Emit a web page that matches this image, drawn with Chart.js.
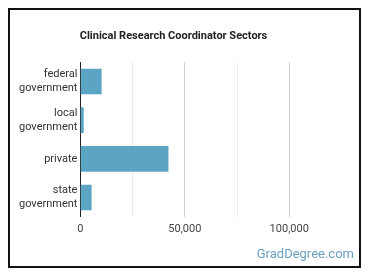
<!DOCTYPE html>
<html>
<head>
<meta charset="utf-8">
<script src="https://cdn.jsdelivr.net/npm/chart.js@4"></script>
<style>
  html, body { margin: 0; padding: 0; background: #fff; }
  #wrap { position: relative; width: 370px; height: 278px; }
  #frame {
    position: absolute; left: 8px; top: 8px; width: 353px; height: 260px;
    box-sizing: border-box; border: 2px solid #111; pointer-events: none;
  }
  #brand {
    position: absolute; right: 16px; top: 246px;
    font: 13px Roboto, sans-serif; color: #6b9fc0;
  }
</style>
</head>
<body>
<div id="wrap">
  <canvas id="chart" width="370" height="278"></canvas>
  <div id="frame"></div>
  <div id="brand">GradDegree.com</div>
</div>
<script>
// sectors and number of workers
const sectors = [['federal', 'government'], ['local', 'government'], 'private', ['state', 'government']];
const workers = [10000, 1400, 42000, 5200];
const tickValues = [0, 25000, 50000, 75000, 100000];
const labeledTicks = [0, 50000, 100000];

const ctx = document.getElementById('chart').getContext('2d');

new Chart(ctx, {
    type: 'bar',
    data: {
        labels: sectors,
        datasets: [{
            data: workers,
            backgroundColor: '#5ca4c4',
            borderWidth: 0,
            barThickness: 25
        }]
    },
    options: {
        indexAxis: 'y',
        responsive: false,
        animation: false,
        layout: {
            padding: { left: 16, right: 39, top: 20, bottom: 36 }
        },
        scales: {
            x: {
                min: 0,
                max: 120000,
                afterBuildTicks: (scale) => {
                    scale.ticks = tickValues.map(v => ({ value: v }));
                },
                ticks: {
                    padding: 6,
                    color: '#444',
                    font: { family: 'Roboto', size: 11 },
                    maxRotation: 0,
                    autoSkip: false,
                    callback: (value) => labeledTicks.includes(value) ? value.toLocaleString('en-US') : ''
                },
                grid: {
                    drawTicks: false,
                    color: (c) => {
                        const v = c.tick ? c.tick.value : 0;
                        if (v === 0) return 'rgba(0,0,0,0)';
                        return v % 50000 === 0 ? '#cfcfcf' : '#ececec';
                    }
                },
                border: { display: false }
            },
            y: {
                ticks: {
                    padding: 3,
                    color: '#333',
                    font: { family: 'Roboto', size: 11, lineHeight: 1.27 }
                },
                grid: { display: false, drawTicks: false },
                border: { display: true, color: '#222', width: 1 }
            }
        },
        plugins: {
            legend: { display: false },
            tooltip: { enabled: false },
            title: {
                display: true,
                text: 'Clinical Research Coordinator Sectors',
                color: '#222',
                font: { family: 'Roboto', size: 11, weight: 'bold' },
                padding: { top: 10, bottom: 19 }
            }
        }
    }
});
</script>
</body>
</html>
